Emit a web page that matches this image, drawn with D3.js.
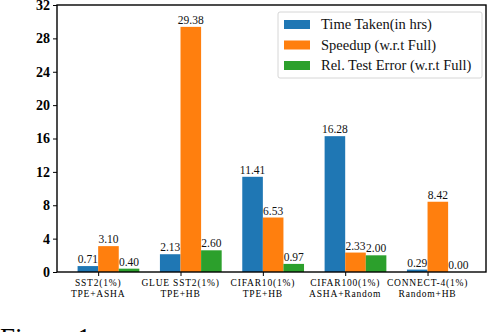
<!DOCTYPE html>
<html>
<head>
<meta charset="utf-8">
<script src="https://cdn.jsdelivr.net/npm/d3@7"></script>
<style>
  body { margin: 0; background: #fff; }
  svg { display: block; }
  svg text { font-family: "Liberation Serif", "DejaVu Serif", serif; }
</style>
</head>
<body>
<div id="chart"></div>
<script>
const categories = [
  ['SST2(1%)', 'TPE+ASHA'],
  ['GLUE SST2(1%)', 'TPE+HB'],
  ['CIFAR10(1%)', 'TPE+HB'],
  ['CIFAR100(1%)', 'ASHA+Random'],
  ['CONNECT-4(1%)', 'Random+HB']
];
const seriesNames = ['Time Taken(in hrs)', 'Speedup (w.r.t Full)', 'Rel. Test Error (w.r.t Full)'];
const timeTaken = [0.71, 2.13, 11.41, 16.28, 0.29];
const speedup = [3.10, 29.38, 6.53, 2.33, 8.42];
const relError = [0.40, 2.60, 0.97, 2.00, 0.00];
const yTicks = [0, 4, 8, 12, 16, 20, 24, 28, 32];
const colors = ['#1f77b4', '#ff7f0e', '#2ca02c'];

const width = 490, height = 332;
const plotL = 57, plotR = 486, plotT = 5, plotB = 272;
const barW = 0.25;
const serif = '"Liberation Serif", "DejaVu Serif", serif';

const svg = d3.select('#chart').append('svg')
  .attr('width', width)
  .attr('height', height);

const x = d3.scaleLinear().domain([-0.5, 4.71]).range([plotL, plotR]);
const y = d3.scaleLinear().domain([0, 32]).range([plotB, plotT]);

const series = [timeTaken, speedup, relError];

// bars + value labels
series.forEach((vals, s) => {
  const g = svg.append('g');
  g.selectAll('rect')
    .data(vals)
    .enter().append('rect')
    .attr('x', (d, i) => x(i + (s - 1) * barW))
    .attr('y', d => y(d))
    .attr('width', x(barW) - x(0))
    .attr('height', d => y(0) - y(d))
    .attr('fill', colors[s]);
  g.selectAll('text')
    .data(vals)
    .enter().append('text')
    .attr('x', (d, i) => x(i + (s - 1) * barW + barW / 2))
    .attr('y', d => y(d) - 3)
    .attr('text-anchor', 'middle')
    .attr('font-family', serif)
    .attr('font-size', 11.5)
    .attr('fill', '#111')
    .text(d => d.toFixed(2));
});

// frame
svg.append('rect')
  .attr('x', plotL).attr('y', plotT)
  .attr('width', plotR - plotL).attr('height', plotB - plotT)
  .attr('fill', 'none').attr('stroke', '#000').attr('stroke-width', 1.4);

// y axis
const yAxis = svg.append('g').attr('transform', `translate(${plotL},0)`)
  .call(d3.axisLeft(y).tickValues(yTicks).tickSize(4).tickFormat(d3.format('d')));
yAxis.select('.domain').remove();
yAxis.selectAll('text').attr('font-size', 14).attr('font-family', serif).attr('font-weight', 'bold').attr('fill', '#000');

// x axis
const xAxis = svg.append('g').attr('transform', `translate(0,${plotB})`)
  .call(d3.axisBottom(x).tickValues(d3.range(categories.length)).tickSize(4).tickFormat(''));
xAxis.select('.domain').remove();

const xl = svg.append('g');
categories.forEach((c, i) => {
  const t = xl.append('text')
    .attr('x', x(i))
    .attr('y', plotB + 14)
    .attr('text-anchor', 'middle')
    .attr('font-family', serif)
    .attr('font-size', 9.5)
    .attr('letter-spacing', 0.8)
    .attr('fill', '#000');
  t.append('tspan').attr('x', x(i)).text(c[0]);
  t.append('tspan').attr('x', x(i)).attr('dy', 11).text(c[1]);
});

// legend
const lg = svg.append('g').attr('transform', 'translate(278,12)');
lg.append('rect')
  .attr('width', 204).attr('height', 66).attr('rx', 2)
  .attr('fill', '#fff').attr('fill-opacity', 0.8)
  .attr('stroke', '#ccc').attr('stroke-width', 0.8);
seriesNames.forEach((name, i) => {
  lg.append('rect')
    .attr('x', 6).attr('y', 8 + i * 20.5)
    .attr('width', 26).attr('height', 9)
    .attr('fill', colors[i]);
  lg.append('text')
    .attr('x', 43).attr('y', 17 + i * 20.5)
    .attr('font-family', serif)
    .attr('font-size', 14.5)
    .attr('fill', '#111')
    .text(name);
});

// caption, cut off at the bottom
svg.append('text')
  .attr('x', 0).attr('y', 347)
  .attr('font-family', serif)
  .attr('font-size', 27)
  .attr('fill', '#000')
  .text('Figure 1.');
</script>
</body>
</html>
